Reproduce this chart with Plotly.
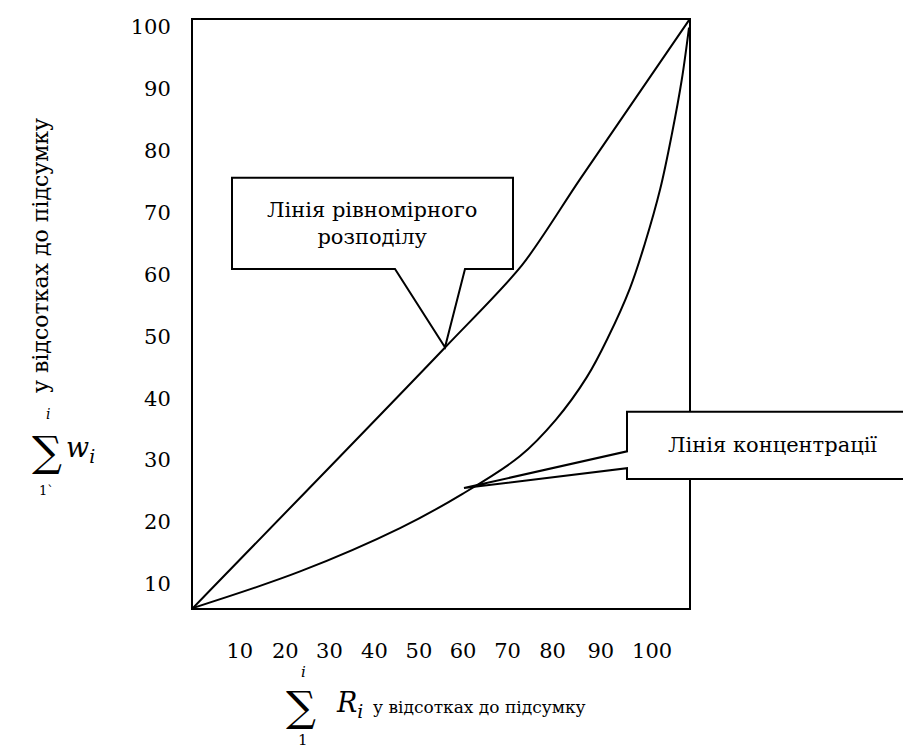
import plotly.graph_objects as go

# ---------------- data (axis units) ----------------
x_tick_labels = ["10", "20", "30", "40", "50", "60", "70", "80", "90", "100"]
y_tick_labels = ["10", "20", "30", "40", "50", "60", "70", "80", "90", "100"]
y_tick_values = [10, 20, 30, 40, 50, 60, 70, 80, 90, 100]
x_tick_values = [10.2, 20.3, 30.1, 40.1, 50.0, 59.8, 69.7, 79.7, 90.4, 101.8]

# line of uniform distribution
uniform_x = [-0.2, 55.8, 72.9, 85.8, 110.0]
uniform_y = [6.1, 48.2, 61.5, 75.4, 101.1]

# line of concentration (Lorenz curve)
conc_x = [-0.2, 23.6, 45.8, 59.6, 72.4, 80.4, 87.3, 92.0, 96.9, 100.2,
          103.6, 106.2, 108.4, 110.0]
conc_y = [6.1, 12.0, 19.0, 24.5, 30.6, 36.5, 43.4, 49.8, 57.8, 65.0,
          73.8, 82.7, 91.5, 99.9]

label_uniform = "Лінія рівномірного<br>розподілу"
label_conc = "Лінія концентрації"
x_title_text = "у відсотках до підсумку"
y_title_text = "у відсотках до підсумку"

# ---------------- layout geometry (page pixels; page has 8px body margin) ----------------
W, H = 911, 752
OFF = 8
L, R, T, B = 193 - OFF, 689 - OFF, 15 - OFF, 608 - OFF
X0, X1 = -0.2, 110.0
Y0, Y1 = 6.09, 101.12
FONT = "DejaVu Serif"


def px(xp):
    return (xp - OFF - L) / (R - L)


def py(yp):
    return (B - (yp - OFF)) / (B - T)


fig = go.Figure()
fig.add_trace(go.Scatter(x=uniform_x, y=uniform_y, mode="lines", line_shape="spline",
                         line=dict(color="black", width=2, smoothing=0.8), hoverinfo="skip"))
fig.add_trace(go.Scatter(x=conc_x, y=conc_y, mode="lines", line_shape="spline",
                         line=dict(color="black", width=2), hoverinfo="skip"))


def path(points):
    return "M " + " L ".join(f"{px(a):.5f},{py(b):.5f}" for a, b in points) + " Z"


shapes = []
# callout 1
c1 = [(232, 174), (513, 174), (513, 266), (465, 266), (445, 345), (395, 266), (232, 266)]
shapes.append(dict(type="path", xref="paper", yref="paper", path=path(c1),
                   fillcolor="white", line=dict(color="black", width=2), layer="above"))
# callout 2
c2 = [(627, 410), (940, 410), (940, 478), (627, 478), (627, 467), (464, 487), (627, 450)]
shapes.append(dict(type="path", xref="paper", yref="paper", path=path(c2),
                   fillcolor="white", line=dict(color="black", width=2), layer="above"))


def text_ann(x, y, text, size, xanchor="center", angle=0):
    return dict(x=px(x), y=py(y), xref="paper", yref="paper", text=text,
                showarrow=False, textangle=angle,
                font=dict(family=FONT, size=size, color="black"),
                xanchor=xanchor, yanchor="middle", align="center")


ann = [
    text_ann(372, 220, label_uniform, 21),
    text_ann(772, 444, label_conc, 21),
    # x title
    text_ann(301, 707, "∑", 42),
    text_ann(303, 673, "<i>i</i>", 15),
    text_ann(303, 741, "1", 15),
    text_ann(334, 705, "<i>R</i><sub><i>i</i></sub>", 27, xanchor="left"),
    text_ann(371, 708, x_title_text, 17, xanchor="left"),
    # y title
    text_ann(41, 253, y_title_text, 22, angle=-90),
    text_ann(47, 450, "∑", 42),
    text_ann(48, 412, "<i>i</i>", 14),
    text_ann(46, 489, "1`", 13),
    text_ann(64, 448, "<i>w</i><sub><i>i</i></sub>", 27, xanchor="left"),
]

fig.update_layout(
    width=W, height=H,
    margin=dict(l=L, r=W - R, t=T, b=H - B, pad=0),
    paper_bgcolor="white", plot_bgcolor="white",
    showlegend=False,
    font=dict(family=FONT, color="black"),
    shapes=shapes, annotations=ann,
    xaxis=dict(range=[X0, X1], showgrid=False, zeroline=False,
               showline=True, mirror=True, linecolor="black", linewidth=2,
               tickmode="array", tickvals=x_tick_values, ticktext=x_tick_labels,
               ticks="", ticklabelstandoff=23,
               tickfont=dict(family=FONT, size=21, color="black")),
    yaxis=dict(range=[Y0, Y1], showgrid=False, zeroline=False,
               showline=True, mirror=True, linecolor="black", linewidth=2,
               tickmode="array", tickvals=y_tick_values, ticktext=y_tick_labels,
               ticks="", ticklabelstandoff=16,
               tickfont=dict(family=FONT, size=21, color="black")),
)

fig.write_html("out.html")
